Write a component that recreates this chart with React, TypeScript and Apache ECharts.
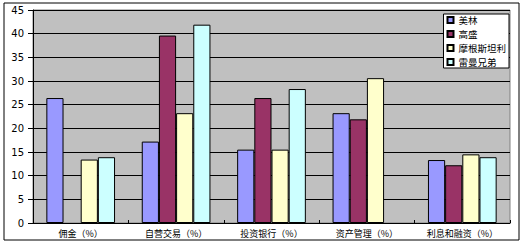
import React, { useEffect, useRef } from "react";
import * as echarts from "echarts";

const categories = ["佣金（%）", "自营交易（%）", "投资银行（%）", "资产管理（%）", "利息和融资（%）"];
const seriesNames = ["美林", "高盛", "摩根斯坦利", "雷曼兄弟"];
const merrill = [26.4, 17.2, 15.5, 23.2, 13.3];
const goldman = [null, 39.6, 26.4, 21.9, 12.2];
const morgan = [13.4, 23.2, 15.5, 30.6, 14.5];
const lehman = [13.9, 41.9, 28.3, null, 13.9];
const colors = ["#9999ff", "#993366", "#ffffcc", "#ccffff"];
const yTicks = { min: 0, max: 45, interval: 5 };

export default function App() {
  const ref = useRef<HTMLDivElement>(null);
  useEffect(() => {
    if (!ref.current) return;
    const chart = echarts.init(ref.current, null, { renderer: "svg" });
    const dataSets = [merrill, goldman, morgan, lehman];
    const font = '"Noto Sans CJK SC", sans-serif';
    chart.setOption({
      animation: false,
      backgroundColor: "#ffffff",
      textStyle: { fontFamily: font },
      grid: {
        left: 33,
        top: 10,
        right: 16,
        bottom: 24,
        show: true,
        backgroundColor: "#c0c0c0",
        borderColor: "#808080",
        borderWidth: 1,
      },
      graphic: [
        {
          type: "rect",
          shape: { x: 4, y: 3, width: 515, height: 237 },
          style: { fill: "none", stroke: "#000", lineWidth: 1 },
          z: -1,
        },
      ],
      legend: {
        orient: "vertical",
        right: 17,
        top: 14,
        backgroundColor: "#ffffff",
        borderColor: "#000",
        borderWidth: 1,
        padding: [0, 3, 0, 3],
        itemGap: 2,
        itemWidth: 6,
        itemHeight: 6,
        icon: "rect",
        textStyle: { fontSize: 9.5, color: "#000", lineHeight: 12, fontFamily: font },
        data: seriesNames,
      },
      xAxis: {
        type: "category",
        data: categories,
        axisLine: { lineStyle: { color: "#000", width: 1 } },
        axisTick: { show: true, inside: true, length: 3, lineStyle: { color: "#000" } },
        axisLabel: { fontSize: 9, color: "#000", margin: 6, interval: 0, fontFamily: font },
      },
      yAxis: {
        type: "value",
        min: yTicks.min,
        max: yTicks.max,
        interval: yTicks.interval,
        axisLine: { show: true, lineStyle: { color: "#000", width: 1 } },
        axisTick: { show: true, length: 5, lineStyle: { color: "#000" } },
        axisLabel: { fontSize: 10, color: "#000", margin: 9, fontFamily: "DejaVu Sans, sans-serif" },
        splitLine: { show: true, lineStyle: { color: "#000", width: 1 } },
      },
      series: seriesNames.map((name, i) => ({
        name,
        type: "bar",
        data: dataSets[i].map((v) => (v === null ? "-" : v)),
        barGap: "0%",
        barCategoryGap: "28%",
        itemStyle: { color: colors[i], borderColor: "#000", borderWidth: 1 },
      })),
    });
    return () => chart.dispose();
  }, []);
  return (
    <div
      ref={ref}
      style={{ position: "fixed", left: 0, top: 0, width: 526, height: 247 }}
    />
  );
}
